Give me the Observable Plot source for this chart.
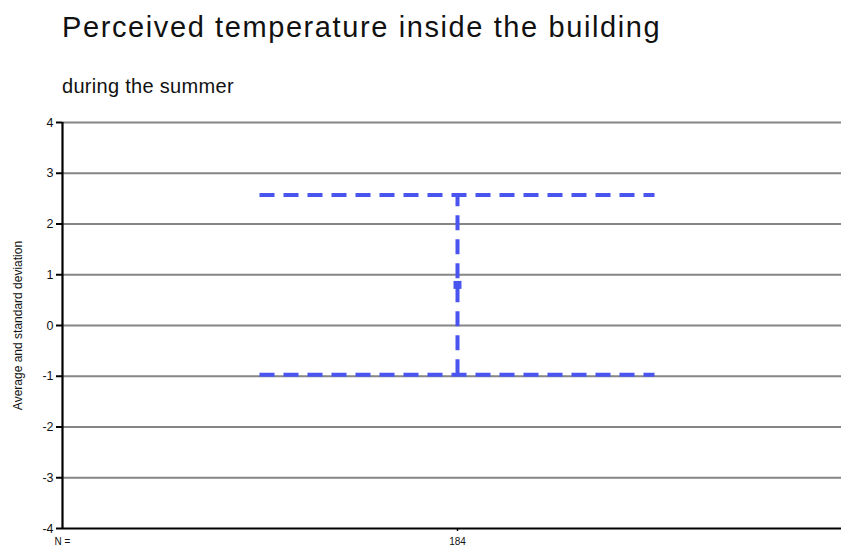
<!DOCTYPE html>
<html><head><meta charset="utf-8">
<script src="https://cdn.jsdelivr.net/npm/d3@7"></script>
<script src="https://cdn.jsdelivr.net/npm/@observablehq/plot@0.6"></script>
<style>
body{margin:0;background:#fff;font-family:"Liberation Sans",Arial,sans-serif;}
#wrap{position:relative;width:841px;height:548px;}
#title{position:absolute;left:62px;top:11px;font-size:29px;letter-spacing:1.6px;color:#111;white-space:nowrap;}
#sub{position:absolute;left:62px;top:75px;font-size:20px;letter-spacing:0.3px;color:#111;white-space:nowrap;}
#chart{position:absolute;left:0;top:110px;}
</style></head>
<body><div id="wrap"><div id="title">Perceived temperature inside the building</div><div id="sub">during the summer</div><div id="chart"></div></div>
<script>
const groups = ["184"];
const means = [0.80];
const sds = [1.77];
const yTicks = [-4,-3,-2,-1,0,1,2,3,4];
const nLabel = "N =";

const data = groups.map((g,i)=>({g, idx:i+1, mean:means[i], lo:means[i]-sds[i], hi:means[i]+sds[i]}));
const blue = "#4a55f0";
const plot = Plot.plot({
  width:841, height:438,
  marginTop:12, marginBottom:20, marginLeft:62, marginRight:0,
  x:{type:"linear", domain:[0,2], range:[62,852], axis:null},
  y:{domain:[-4,4], axis:null},
  style:{fontFamily:"'Liberation Sans', Arial, sans-serif", background:"white"},
  marks:[
    Plot.ruleY(yTicks.filter(d=>d>-4), {stroke:"#858585", strokeWidth:2.2}),
    Plot.ruleX([0], {y1:-4, y2:4, stroke:"#000", strokeWidth:2.2}),
    Plot.ruleY([-4], {stroke:"#000", strokeWidth:2.2}),
    Plot.ruleY(yTicks, {x1:0, x2:0, insetLeft:-6, stroke:"#000", strokeWidth:2}),
    Plot.text(yTicks, {x:0, y:d=>d, text:d=>String(d), dx:-9, textAnchor:"end", fontSize:12.5, fill:"#111"}),
    Plot.ruleY(data, {y:"hi", x1:d=>d.idx-0.5, x2:d=>d.idx+0.5, stroke:blue, strokeWidth:4, strokeDasharray:"15,9"}),
    Plot.ruleY(data, {y:"lo", x1:d=>d.idx-0.5, x2:d=>d.idx+0.5, stroke:blue, strokeWidth:4, strokeDasharray:"15,9"}),
    Plot.ruleX(data, {x:"idx", y1:"lo", y2:"hi", stroke:blue, strokeWidth:4, strokeDasharray:"15,9"}),
    Plot.dot(data, {x:"idx", y:"mean", symbol:"square", r:4.5, fill:blue, stroke:null}),
    Plot.text(data, {x:"idx", y:-4, text:"g", dy:13, fontSize:10, fill:"#111"}),
    Plot.ruleX(data, {x:"idx", y1:-4, y2:-4, insetBottom:-3, stroke:"#000", strokeWidth:1.5}),
    Plot.text([nLabel], {x:0, y:-4, text:d=>d, dy:13, fontSize:10, fill:"#111"}),
    Plot.text(["Average and standard deviation"], {x:0, y:0, text:d=>d, rotate:-90, dx:-44, fontSize:12, fill:"#111"})
  ]
});
document.getElementById("chart").appendChild(plot);
</script></body></html>
